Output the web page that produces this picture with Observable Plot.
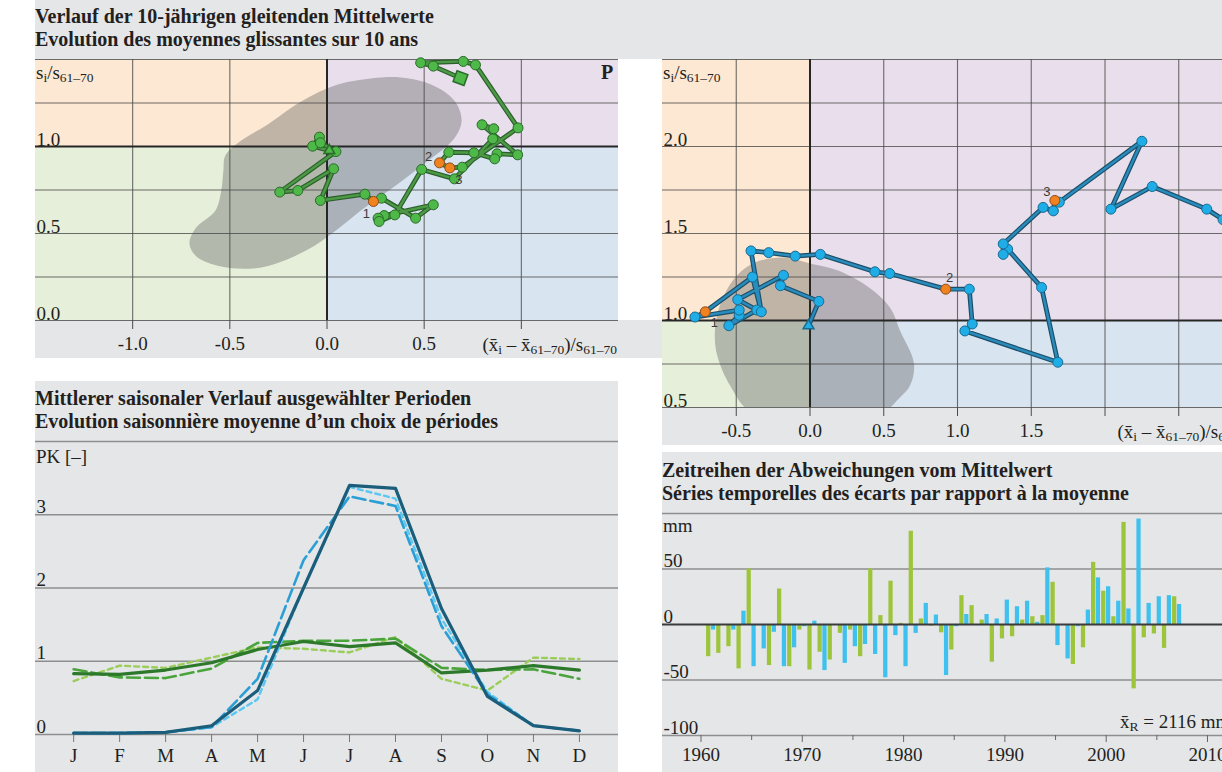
<!DOCTYPE html>
<html lang="de">
<head>
<meta charset="utf-8">
<script src="https://cdn.jsdelivr.net/npm/d3@7"></script>
<script src="https://cdn.jsdelivr.net/npm/@observablehq/plot@0.6"></script>
<style>
  html, body { margin: 0; padding: 0; }
  body { width: 1222px; height: 772px; overflow: hidden; position: relative; background: #fff;
         font-family: "Liberation Serif", "Times New Roman", serif; color: #231f20; }
  .panel { position: absolute; background: #e5e6e8; }
  .title { position: absolute; left: 0; font-weight: bold; font-size: 20px; line-height: 23px; white-space: nowrap; }
  .lbl { position: absolute; white-space: nowrap; font-size: 19px; line-height: 20px; }
  .lbl sub { font-size: 13.5px; vertical-align: -3px; line-height: 0; }
  .plot { position: absolute; left: 0; }
  .plot svg { display: block; }
  .gap { position: absolute; background: #fff; }
</style>
</head>
<body>

<div class="panel" style="left:35px;top:0;width:627px;height:358px">
  <div class="title" style="top:5px">Verlauf der 10-jährigen gleitenden Mittelwerte<br>Evolution des moyennes glissantes sur 10 ans</div>
  <div class="gap" style="left:583px;top:59px;width:44px;height:261px"></div>
  <div class="plot" id="plot1" style="top:59px"></div>
  <div class="lbl" style="left:1px;top:63px">s<sub>i</sub>/s<sub>61–70</sub></div>
  <div class="lbl" style="left:566px;top:62px;font-weight:bold;font-size:20px">P</div>
  <div class="lbl" style="right:45px;top:335px">(x̄<sub>i</sub> – x̄<sub>61–70</sub>)/s<sub>61–70</sub></div>
</div>

<div class="panel" style="left:662px;top:0;width:600px;height:445px">
  <div class="plot" id="plot2" style="top:59px"></div>
  <div class="lbl" style="left:1px;top:63px">s<sub>i</sub>/s<sub>61–70</sub></div>
  <div class="lbl" style="right:10px;top:422px">(x̄<sub>i</sub> – x̄<sub>61–70</sub>)/s<sub>61–70</sub></div>
</div>

<div class="panel" style="left:35px;top:381px;width:583px;height:391px">
  <div class="title" style="top:6px">Mittlerer saisonaler Verlauf ausgewählter Perioden<br>Evolution saisonnière moyenne d’un choix de périodes</div>
  <div class="plot" id="plot3" style="top:60px"></div>
  <div class="lbl" style="left:1px;top:66px">PK [–]</div>
</div>

<div class="panel" style="left:662px;top:452px;width:600px;height:320px">
  <div class="title" style="top:7px">Zeitreihen der Abweichungen vom Mittelwert<br>Séries temporelles des écarts par rapport à la moyenne</div>
  <div class="plot" id="plot4" style="top:61px"></div>
  <div class="lbl" style="left:1px;top:64px">mm</div>
  <div class="lbl" style="left:458px;top:260px">x̄<sub>R</sub> = 2116 mm</div>
</div>

<script>
// ---------------------------------------------------------------------------
// 10-year moving averages, normalised on 1961–1970:
//   x = (x̄i − x̄61–70)/s61–70,  y = si/s61–70
// ---------------------------------------------------------------------------
const greenX = [0.012, -0.074, -0.039, -0.034, 0.046, -0.243, -0.150, 0.034, -0.034, 0.195,
                0.239, 0.280, 0.456, 0.547, 0.294, 0.263, 0.268, 0.349, 0.487, 0.656,
                0.853, 0.858, 0.798, 0.981, 0.875, 0.863, 0.756, 0.627, 0.579, 0.632,
                0.696, 0.983, 0.764, 0.701, 0.482, 0.547, 0.687];
const greenY = [0.977, 1.002, 1.054, 1.021, 0.971, 0.738, 0.747, 0.872, 0.690, 0.726,
                0.684, 0.703, 0.588, 0.665, 0.603, 0.588, 0.569, 0.607, 0.868, 0.814,
                1.044, 1.102, 1.125, 0.952, 0.958, 0.929, 0.964, 0.967, 0.906, 0.877,
                0.881, 1.107, 1.469, 1.489, 1.481, 1.462, 1.393];
const greenPeriods = [10, 28, 29];   // positions of the highlighted periods 1, 2, 3

const blueX = [-0.01, 0.06, -0.20, -0.18, -0.49, -0.36, -0.55, -0.48, -0.48, -0.78,
               -0.71, -0.39, -0.33, -0.40, -0.28, -0.10, 0.07, 0.44, 0.54, 0.92,
               1.08, 1.10, 1.05, 1.68, 1.57, 1.34, 1.31, 1.31, 1.58, 1.65,
               1.66, 1.69, 2.25, 2.04, 2.32, 2.69, 2.80];
const blueY = [0.97, 1.11, 1.20, 1.26, 1.12, 1.06, 0.97, 1.03, 1.06, 1.02,
               1.05, 1.25, 1.05, 1.40, 1.39, 1.37, 1.38, 1.28, 1.27, 1.18,
               1.18, 0.98, 0.94, 0.76, 1.19, 1.41, 1.38, 1.44, 1.65, 1.63,
               1.69, 1.68, 2.03, 1.64, 1.77, 1.64, 1.58];
const bluePeriods = [10, 19, 30];

// envelope of the reference stations (grey area)
const greenEnvX = [-0.708, -0.677, -0.574, -0.544, -0.533, -0.523, -0.441, -0.313, -0.133, 0.056,
                   0.226, 0.379, 0.508, 0.610, 0.672, 0.692, 0.646, 0.508, 0.354, 0.174,
                   0.046, -0.108, -0.338, -0.544, -0.672];
const greenEnvY = [0.443, 0.529, 0.632, 0.747, 0.862, 0.948, 1.034, 1.121, 1.259, 1.356,
                   1.391, 1.397, 1.368, 1.310, 1.236, 1.138, 1.034, 0.908, 0.776, 0.632,
                   0.517, 0.402, 0.305, 0.310, 0.368];
const blueEnvX = [-0.373, -0.19, 0, 0.19, 0.40, 0.542, 0.61, 0.705, 0.678, 0.603,
                  0.488, 0.08, -0.393, -0.542, -0.637, -0.637, -0.583, -0.495];
const blueEnvY = [1.333, 1.362, 1.328, 1.287, 1.19, 1.075, 0.943, 0.753, 0.626, 0.552,
                  0.47, 0.454, 0.47, 0.626, 0.828, 1.0, 1.144, 1.259];

// axis ticks of the two trajectory panels
const leftXTicks = [-1, -0.5, 0, 0.5, 1];
const leftXLabels = [-1, -0.5, 0, 0.5];
const leftYGrid = [0, 0.25, 0.5, 0.75, 1.25, 1.5];
const leftYLabels = [0, 0.5, 1];
const rightXTicks = [-0.5, 0, 0.5, 1, 1.5, 2, 2.5];
const rightXLabels = [-0.5, 0, 0.5, 1, 1.5];
const rightYGrid = [0.5, 0.75, 1.25, 1.5, 1.75, 2, 2.25, 2.5];
const rightYLabels = [0.5, 1, 1.5, 2];

// ---------------------------------------------------------------------------
// Mean seasonal regime (Pardé coefficients) of selected periods
// ---------------------------------------------------------------------------
const months = ["J", "F", "M", "A", "M", "J", "J", "A", "S", "O", "N", "D"];
const pkBlueSolid  = [0.02, 0.02, 0.03, 0.12, 0.60, 2.00, 3.40, 3.36, 1.72, 0.52, 0.12, 0.05];
const pkBlueLong   = [0.02, 0.02, 0.03, 0.10, 0.76, 2.38, 3.25, 3.12, 1.48, 0.55, 0.12, 0.05];
const pkBlueShort  = [0.02, 0.02, 0.03, 0.10, 0.48, 2.00, 3.38, 3.22, 1.58, 0.58, 0.12, 0.05];
const pkGreenSolid = [0.83, 0.82, 0.88, 0.98, 1.16, 1.27, 1.20, 1.25, 0.84, 0.88, 0.94, 0.88];
const pkGreenLong  = [0.89, 0.78, 0.77, 0.90, 1.25, 1.28, 1.28, 1.31, 0.91, 0.88, 0.89, 0.76];
const pkGreenShort = [0.73, 0.94, 0.91, 1.05, 1.19, 1.17, 1.12, 1.33, 0.76, 0.60, 1.05, 1.03];
const pkGrid = [0, 1, 2, 3, 4];
const pkLabels = [0, 1, 2, 3];

// ---------------------------------------------------------------------------
// Yearly deviations from the mean (mm), 1961–2007
// ---------------------------------------------------------------------------
const devYears = d3.range(1961, 2008);
const devGreen = [-29, -26, -20, -40, 50, -1, -37, 32, -38, -5,
                  -41, -25, -32, -8, -5, -29, 50, 8, 39, 1,
                  84, 5, -1.5, -7.5, -23, 26, 17, 4, -34, -13,
                  -11, 4, 7, 8, 38, 0, -36, -21, 56, 30,
                  7, 92, -58, -12, -8.5, -21.5, 25];
const devBlue = [-5, 0, -5, 12, -38, -22, -7, -38, -21, -2,
                 3, -41.5, 0, -35, -20, -18, -27, -48, -10, -38,
                 -8, 19, 8.5, -46, -2, 9, -1, 9, 5, 22,
                 16, 21, 2, 51, -19, -31, -2, 13, 42, 34,
                 21, 14, 95, 19, 25, 26, 18];
const devGrid = [100, 50, -50, -100];
const devLabels = [50, 0, -50, -100];
const decadeTicks = d3.range(1960, 2011, 10);
const halfDecadeTicks = d3.range(1965, 2011, 10);

// ---------------------------------------------------------------------------
const baseStyle = {
  fontFamily: '"Liberation Serif", "Times New Roman", serif',
  fontSize: "19px",
  color: "#231f20",
  background: "none",
  overflow: "visible"
};
const numberFont = '"Liberation Sans Narrow", "Arial Narrow", "Liberation Sans", sans-serif';

function trajectoryPlot(o) {
  const pts = o.xs.map((x, i) => ({x, y: o.ys[i], i}));
  const last = pts.length - 1;
  const periods = o.periods.map((k, j) => ({...pts[k], label: String(j + 1)}));
  const plain = pts.filter(p => p.i > 0 && !(o.endSquare && p.i === last) && !o.periods.includes(p.i));
  const env = o.envX.map((x, i) => ({x, y: o.envY[i]}));
  const [x0, x1] = o.xDomain, [y0, y1] = o.yDomain;
  // quadrants around the 1961–70 reference (x = 0, y = 1)
  const quads = [
    {x1: x0, x2: 0, y1: 1, y2: y1, fill: "#fde8d3"},
    {x1: 0, x2: x1, y1: 1, y2: y1, fill: "#e9dfec"},
    {x1: x0, x2: 0, y1: y0, y2: 1, fill: "#e6efd9"},
    {x1: 0, x2: x1, y1: y0, y2: 1, fill: "#d9e4f1"}
  ];
  const marks = [
    Plot.rect(quads, {x1: "x1", x2: "x2", y1: "y1", y2: "y2", fill: "fill"}),
    Plot.line(env, {x: "x", y: "y", curve: "catmull-rom-closed", fill: "#6b6b6b",
                    fillOpacity: 0.42, stroke: "none", clip: true}),
    Plot.ruleY(o.yGrid, {stroke: "#4a4a4a", strokeOpacity: 0.8, strokeWidth: 1.1}),
    Plot.ruleX(o.xTicks, {stroke: "#4a4a4a", strokeOpacity: 0.8, strokeWidth: 1.1}),
    Plot.ruleX([0], {stroke: "#262626", strokeWidth: 2}),
    Plot.ruleY([1], {stroke: "#262626", strokeWidth: 2}),
    Plot.axisX(o.xTicks, {tickSize: 9, tickPadding: 7, stroke: "#4a4a4a", label: null,
                          tickFormat: d => o.xLabels.includes(d) ? d.toFixed(1) : ""}),
    Plot.text(o.yLabels, {x: x0, y: d => d, text: d => d.toFixed(1), textAnchor: "start",
                          lineAnchor: "bottom", dx: 1, dy: -1}),
    Plot.line(pts, {x: "x", y: "y", stroke: o.lineDark, strokeWidth: 4.8, strokeLinejoin: "round"}),
    Plot.line(pts, {x: "x", y: "y", stroke: o.lineLight, strokeWidth: 2.4, strokeLinejoin: "round"}),
    Plot.dot(plain, {x: "x", y: "y", r: 5, fill: o.dotFill, stroke: o.dotStroke, strokeWidth: 1}),
    Plot.dot([pts[0]], {x: "x", y: "y", symbol: "triangle", r: 4, fill: o.dotFill, stroke: o.dotStroke}),
    Plot.dot(periods, {x: "x", y: "y", r: 5, fill: "#f0821f", stroke: "#8d4b15", strokeWidth: 1})
  ];
  if (o.endSquare) {
    marks.push(Plot.dot([pts[last]], {x: "x", y: "y", symbol: "square", r: 6.5, rotate: 20,
                                       fill: o.dotFill, stroke: o.dotStroke}));
  }
  periods.forEach((p, j) => {
    const [dx, dy] = o.labelOffsets[j];
    marks.push(Plot.text([p], {x: "x", y: "y", text: "label", dx, dy, fontSize: 13,
                               fontFamily: numberFont, fill: "#3a3a3a"}));
  });
  return Plot.plot({
    width: o.width, height: o.height,
    marginTop: 0, marginLeft: 0, marginRight: o.marginRight, marginBottom: o.marginBottom,
    x: {domain: o.xDomain, axis: null, label: null},
    y: {domain: o.yDomain, axis: null, label: null},
    color: {type: "identity"},
    style: baseStyle,
    marks
  });
}

document.getElementById("plot1").appendChild(trajectoryPlot({
  xs: greenX, ys: greenY, periods: greenPeriods, envX: greenEnvX, envY: greenEnvY,
  xDomain: [-1.5, 1.5], yDomain: [0, 1.5],
  width: 627, height: 299, marginRight: 44, marginBottom: 38,
  xTicks: leftXTicks, xLabels: leftXLabels, yGrid: leftYGrid, yLabels: leftYLabels,
  lineDark: "#2c5f2c", lineLight: "#4c9a45", dotFill: "#4eb848", dotStroke: "#2a6a2a",
  endSquare: true,
  labelOffsets: [[-7, 12], [-11, -6], [9, 12]]
}));

document.getElementById("plot2").appendChild(trajectoryPlot({
  xs: blueX, ys: blueY, periods: bluePeriods, envX: blueEnvX, envY: blueEnvY,
  xDomain: [-1, 3], yDomain: [0.5, 2.5],
  width: 600, height: 386, marginRight: 10, marginBottom: 38,
  xTicks: rightXTicks, xLabels: rightXLabels, yGrid: rightYGrid, yLabels: rightYLabels,
  lineDark: "#1b4f69", lineLight: "#2a8cbc", dotFill: "#1eade6", dotStroke: "#1a6b91",
  endSquare: false,
  labelOffsets: [[9, 11], [4, -11], [-8, -9]]
}));

// seasonal regimes
const seasonalSeries = [
  {values: pkGreenShort, stroke: "#9bcd5b", width: 2.4, dash: "5,4"},
  {values: pkGreenLong,  stroke: "#4aa43c", width: 2.6, dash: "13,5"},
  {values: pkGreenSolid, stroke: "#2d792b", width: 3.2, dash: null},
  {values: pkBlueShort,  stroke: "#5cc8f1", width: 2.4, dash: "5,4"},
  {values: pkBlueLong,   stroke: "#2a9fd6", width: 2.6, dash: "13,5"},
  {values: pkBlueSolid,  stroke: "#1b5e7b", width: 3.2, dash: null}
];
document.getElementById("plot3").appendChild(Plot.plot({
  width: 583, height: 331,
  marginTop: 0, marginLeft: 0, marginRight: 0, marginBottom: 38,
  x: {domain: [-0.83, 11.85], axis: null, label: null},
  y: {domain: [0, 4], axis: null, label: null},
  style: baseStyle,
  marks: [
    Plot.ruleY(pkGrid, {stroke: "#8e8e8e", strokeWidth: 1.6}),
    Plot.axisX(d3.range(months.length), {tickSize: 8, tickPadding: 6, stroke: "#777", label: null,
                                          tickFormat: i => months[i]}),
    Plot.text(pkLabels, {x: -0.83, y: d => d, text: d => String(d), textAnchor: "start",
                         lineAnchor: "bottom", dx: 1, dy: -2}),
    ...seasonalSeries.map(s => Plot.line(
      s.values.map((v, i) => ({month: i, pk: v})),
      {x: "month", y: "pk", stroke: s.stroke, strokeWidth: s.width,
       strokeDasharray: s.dash, strokeLinejoin: "round"}))
  ]
}));

// yearly deviations
const greenRows = devYears.map((year, i) => ({year, v: devGreen[i]}));
const blueRows = devYears.map((year, i) => ({year, v: devBlue[i]}));
document.getElementById("plot4").appendChild(Plot.plot({
  width: 600, height: 259,
  marginTop: 0, marginLeft: 0, marginRight: 0, marginBottom: 37,
  x: {domain: [1956.2, 2015.43], axis: null, label: null},
  y: {domain: [-100, 100], axis: null, label: null},
  style: baseStyle,
  marks: [
    Plot.ruleY(devGrid, {stroke: "#8e8e8e", strokeWidth: 1.6}),
    Plot.rect(greenRows, {x1: d => d.year - 0.45, x2: d => d.year - 0.03, y1: 0, y2: "v", fill: "#9dc53b"}),
    Plot.rect(blueRows, {x1: d => d.year + 0.03, x2: d => d.year + 0.45, y1: 0, y2: "v", fill: "#3ec1ef"}),
    Plot.ruleY([0], {stroke: "#3b3b3b", strokeWidth: 2}),
    Plot.axisX(decadeTicks, {tickSize: 7, tickPadding: 5, stroke: "#666", label: null, tickFormat: d => String(d)}),
    Plot.axisX(halfDecadeTicks, {tickSize: 5, stroke: "#666", label: null, tickFormat: () => ""}),
    Plot.text(devLabels, {x: 1956.2, y: d => d, text: d => String(d), textAnchor: "start",
                          lineAnchor: "bottom", dx: 1, dy: -2})
  ]
}));
</script>
</body>
</html>
